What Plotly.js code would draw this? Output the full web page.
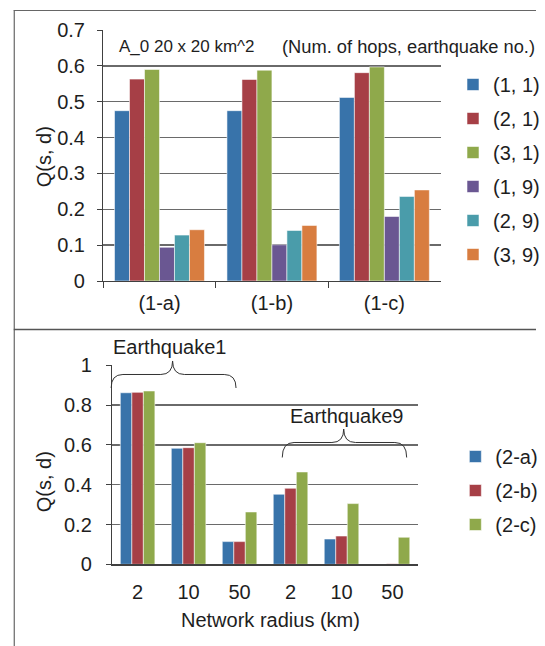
<!DOCTYPE html>
<html>
<head>
<meta charset="utf-8">
<script src="https://cdn.plot.ly/plotly-3.0.1.min.js"></script>
<style>html,body{margin:0;padding:0;background:#fff;}#chart{width:545px;height:646px;}</style>
</head>
<body>
<div id="chart"></div>
<script>
// ---------- Data: top chart ----------
const topCategories = ['(1-a)', '(1-b)', '(1-c)'];
const topSeriesNames = ['(1, 1)', '(2, 1)', '(3, 1)', '(1, 9)', '(2, 9)', '(3, 9)'];
const s11 = [0.475, 0.475, 0.512];
const s21 = [0.563, 0.562, 0.581];
const s31 = [0.590, 0.588, 0.597];
const s19 = [0.094, 0.101, 0.180];
const s29 = [0.128, 0.141, 0.236];
const s39 = [0.143, 0.155, 0.254];
const topTickVals = [0, 0.1, 0.2, 0.3, 0.4, 0.5, 0.6, 0.7];
const topTickText = ['0', '0.1', '0.2', '0.3', '0.4', '0.5', '0.6', '0.7'];

// ---------- Data: bottom chart ----------
const radiusLabels = ['2', '10', '50', '2', '10', '50'];
const radiusPos = [0, 1, 2, 3, 4, 5];
const bottomSeriesNames = ['(2-a)', '(2-b)', '(2-c)'];
const s2a = [0.862, 0.583, 0.114, 0.352, 0.127, 0.002];
const s2b = [0.864, 0.586, 0.114, 0.382, 0.142, 0.003];
const s2c = [0.871, 0.611, 0.263, 0.464, 0.305, 0.136];
const botTickVals = [0, 0.2, 0.4, 0.6, 0.8, 1];
const botTickText = ['0', '0.2', '0.4', '0.6', '0.8', '1'];

// ---------- Styling ----------
const W = 545, H = 646;
const px = x => x / W;
const py = y => 1 - y / H;
const FONT = 'Liberation Sans, Arial, Helvetica, sans-serif';
const TXT = '#1e1e1e';
const colors = ['#3873aa', '#a63f46', '#8fa94b', '#6a5792', '#4a9caa', '#d87d40'];
const barLine = {color: 'rgba(255,255,255,0.55)', width: 1};

const topSeries = [s11, s21, s31, s19, s29, s39];
const traces = topSeries.map((vals, i) => ({
  type: 'bar', x: topCategories, y: vals, name: topSeriesNames[i],
  xaxis: 'x', yaxis: 'y', legend: 'legend', legendgroup: 'g' + i,
  marker: {color: colors[i], line: barLine}, hoverinfo: 'skip'
}));

const botSeries = [s2a, s2b, s2c];
const bw = 0.226;
botSeries.forEach((vals, i) => {
  traces.push({
    type: 'bar', x: radiusPos, y: vals, name: bottomSeriesNames[i],
    xaxis: 'x2', yaxis: 'y2', legend: 'legend2', legendgroup: 'h' + i,
    width: bw, offset: -1.5 * bw + i * bw,
    marker: {color: colors[i], line: barLine}, hoverinfo: 'skip'
  });
});

const gridColor = '#6a6a6a';
const axisColor = '#404040';

// curly brace path in page pixels -> paper coords string
function brace(x0, x1, xc, yEnd, yH, yPeak) {
  const d = 12, f = v => px(v).toFixed(5), g = v => py(v).toFixed(5);
  return 'M' + f(x0) + ',' + g(yEnd) +
    ' Q' + f(x0) + ',' + g(yH) + ' ' + f(x0 + d) + ',' + g(yH) +
    ' L' + f(xc - d) + ',' + g(yH) +
    ' Q' + f(xc) + ',' + g(yH) + ' ' + f(xc) + ',' + g(yPeak) +
    ' Q' + f(xc) + ',' + g(yH) + ' ' + f(xc + d) + ',' + g(yH) +
    ' L' + f(x1 - d) + ',' + g(yH) +
    ' Q' + f(x1) + ',' + g(yH) + ' ' + f(x1) + ',' + g(yEnd);
}

const layout = {
  width: W, height: H, autosize: false,
  margin: {l: 0, r: 0, t: 0, b: 0},
  paper_bgcolor: '#ffffff', plot_bgcolor: 'rgba(0,0,0,0)',
  font: {family: FONT, size: 20, color: TXT},
  barmode: 'group', bargap: 0.2, bargroupgap: 0,
  showlegend: true,
  xaxis: {
    domain: [px(105), px(448)], anchor: 'y', type: 'category',
    tickson: 'boundaries', ticks: 'outside', ticklen: 6, tickcolor: axisColor,
    showline: true, linecolor: axisColor, linewidth: 1.3,
    showgrid: false, tickfont: {size: 20, color: TXT}, ticklabelstandoff: 4
  },
  yaxis: {
    domain: [py(281), py(30)], anchor: 'x', range: [0, 0.7],
    tickvals: topTickVals, ticktext: topTickText,
    ticks: 'outside', ticklen: 5, tickcolor: axisColor,
    showline: true, linecolor: axisColor, linewidth: 1.3,
    showgrid: true, gridcolor: gridColor, gridwidth: 1.3, zeroline: false,
    tickfont: {size: 20, color: TXT}, ticklabelstandoff: 8
  },
  xaxis2: {
    domain: [px(114), px(425)], anchor: 'y2', range: [-0.5, 5.5],
    tickvals: radiusPos, ticktext: radiusLabels, ticks: '',
    showline: true, linecolor: axisColor, linewidth: 1.3,
    showgrid: false, zeroline: false, tickfont: {size: 20, color: TXT},
    ticklabelstandoff: 9
  },
  xaxis3: {
    overlaying: 'x2', anchor: 'y2', side: 'bottom', range: [-0.5, 5.5],
    tickvals: [-0.5, 0.5, 1.5, 2.5, 3.5, 4.5, 5.5],
    ticks: 'outside', ticklen: 6, tickcolor: axisColor, showticklabels: false,
    showline: false, showgrid: false, zeroline: false
  },
  yaxis2: {
    domain: [py(564.3), py(365.3)], anchor: 'x2', range: [0, 1],
    tickvals: botTickVals, ticktext: botTickText,
    ticks: 'outside', ticklen: 5, tickcolor: axisColor,
    showline: true, linecolor: axisColor, linewidth: 1.3,
    showgrid: true, gridcolor: gridColor, gridwidth: 1.3, zeroline: false,
    tickfont: {size: 20, color: TXT}, ticklabelstandoff: 10
  },
  legend: {
    x: px(461), y: py(65), xanchor: 'left', yanchor: 'top',
    font: {size: 20, color: TXT}, tracegroupgap: 5, bgcolor: 'rgba(0,0,0,0)'
  },
  legend2: {
    x: px(463), y: py(437), xanchor: 'left', yanchor: 'top',
    font: {size: 20, color: TXT}, tracegroupgap: 5, bgcolor: 'rgba(0,0,0,0)'
  },
  shapes: [
    {type: 'line', xref: 'paper', yref: 'paper', x0: px(14.5), x1: px(14.5), y0: py(10), y1: 0, line: {color: '#666', width: 1.2}},
    {type: 'line', xref: 'paper', yref: 'paper', x0: px(14), x1: 1, y0: py(10.5), y1: py(10.5), line: {color: '#666', width: 1.2}},
    {type: 'line', xref: 'paper', yref: 'paper', x0: px(14), x1: 1, y0: py(329.5), y1: py(329.5), line: {color: '#555', width: 1.6}},
    {type: 'path', xref: 'paper', yref: 'paper', path: brace(113, 240, 175.5, 388, 374.5, 361), line: {color: '#333', width: 1}},
    {type: 'path', xref: 'paper', yref: 'paper', path: brace(287, 413.5, 349.5, 457.5, 442.5, 429), line: {color: '#333', width: 1}}
  ],
  annotations: [
    {xref: 'paper', yref: 'paper', x: px(119), y: py(47), xanchor: 'left', yanchor: 'middle', showarrow: false,
     text: 'A_0 20 x 20 km^2', font: {size: 17, color: TXT}},
    {xref: 'paper', yref: 'paper', x: px(285), y: py(47), xanchor: 'left', yanchor: 'middle', showarrow: false,
     text: '(Num. of hops, earthquake no.)', font: {size: 18.3, color: TXT}},
    {xref: 'paper', yref: 'paper', x: px(45), y: py(157), xanchor: 'center', yanchor: 'middle', showarrow: false,
     text: 'Q(s, d)', textangle: -90, font: {size: 20, color: TXT}},
    {xref: 'paper', yref: 'paper', x: px(45), y: py(482), xanchor: 'center', yanchor: 'middle', showarrow: false,
     text: 'Q(s, d)', textangle: -90, font: {size: 20, color: TXT}},
    {xref: 'paper', yref: 'paper', x: px(275), y: py(620), xanchor: 'center', yanchor: 'middle', showarrow: false,
     text: 'Network radius (km)', font: {size: 20, color: TXT}},
    {xref: 'paper', yref: 'paper', x: px(172), y: py(347), xanchor: 'center', yanchor: 'middle', showarrow: false,
     text: 'Earthquake1', font: {size: 20, color: TXT}},
    {xref: 'paper', yref: 'paper', x: px(352), y: py(416), xanchor: 'center', yanchor: 'middle', showarrow: false,
     text: 'Earthquake9', font: {size: 20, color: TXT}}
  ]
};

Plotly.newPlot('chart', traces, layout, {staticPlot: true, displayModeBar: false});
</script>
</body>
</html>
